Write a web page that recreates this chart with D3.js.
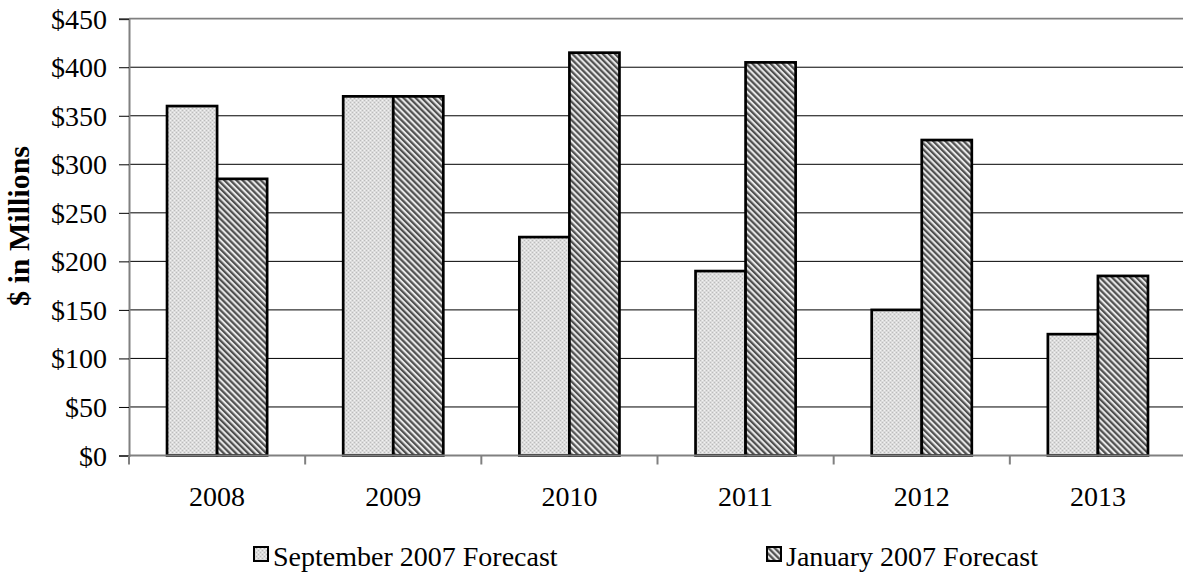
<!DOCTYPE html>
<html><head><meta charset="utf-8">
<script src="https://cdn.jsdelivr.net/npm/d3@7"></script>
<style>body{margin:0;background:#fff}svg{display:block}</style>
</head><body>
<svg id="c" width="1183" height="573"></svg>
<script>
const categories = ["2008","2009","2010","2011","2012","2013"];
const seriesNames = ["September 2007 Forecast","January 2007 Forecast"];
const septValues = [360,370,225,190,150,125];
const janValues = [285,370,415,405,325,185];
const yTicks = [0,50,100,150,200,250,300,350,400,450];

const svg = d3.select("#c");
const L = 129, R = 1186, T = 18.7, B = 455.5;
const font = "'Liberation Serif','Times New Roman',serif";

const defs = svg.append("defs");
const p1 = defs.append("pattern").attr("id","dots").attr("patternUnits","userSpaceOnUse").attr("width",4).attr("height",4);
p1.append("rect").attr("width",4).attr("height",4).attr("fill","#dcdcdc");
p1.append("rect").attr("x",0).attr("y",0).attr("width",1).attr("height",1).attr("fill","#bcbcbc");
p1.append("rect").attr("x",2).attr("y",2).attr("width",1).attr("height",1).attr("fill","#bcbcbc");
p1.append("rect").attr("x",2).attr("y",0).attr("width",1).attr("height",1).attr("fill","#f2f2f2");
p1.append("rect").attr("x",0).attr("y",2).attr("width",1).attr("height",1).attr("fill","#f2f2f2");
const p2 = defs.append("pattern").attr("id","hatch").attr("patternUnits","userSpaceOnUse").attr("width",4.3).attr("height",10).attr("patternTransform","rotate(-45)");
p2.append("rect").attr("width",4.3).attr("height",10).attr("fill","#e8e8e8");
p2.append("rect").attr("width",2.2).attr("height",10).attr("fill","#505050");

const x0 = d3.scaleBand().domain(categories).range([L,R]).padding(0);
const x1 = d3.scaleBand().domain(seriesNames).range([0,x0.bandwidth()]).paddingInner(0).paddingOuter(0.76);
const y = d3.scaleLinear().domain([0,450]).range([B,T]);

// gridlines
svg.append("g").selectAll("line").data(yTicks.filter(d=>d>0)).join("line")
  .attr("x1",L).attr("x2",R).attr("y1",d=>y(d)).attr("y2",d=>y(d))
  .attr("stroke",d=>d===450?"#808080":"#000").attr("stroke-width",d=>d===450?1.7:1);

// y axis
const yAxis = svg.append("g").attr("transform",`translate(${L},0)`)
  .call(d3.axisLeft(y).tickValues(yTicks).tickSize(10).tickPadding(12).tickFormat(d=>"$"+d));
yAxis.select(".domain").attr("stroke","#808080").attr("stroke-width",2);
yAxis.selectAll(".tick line").attr("stroke","#000").attr("stroke-width",1);
yAxis.selectAll("text").attr("font-family",font).attr("font-size",28).attr("fill","#000").attr("dy","0.34em");

// bars
const seriesData = [septValues, janValues];
const fills = ["url(#dots)","url(#hatch)"];
seriesData.forEach((vals,si)=>{
  svg.append("g").selectAll("rect").data(vals).join("rect")
    .attr("x",(d,i)=>x0(categories[i])+x1(seriesNames[si]))
    .attr("width",x1.bandwidth())
    .attr("y",d=>y(d)).attr("height",d=>y(0)-y(d))
    .attr("fill",fills[si]).attr("stroke","#000").attr("stroke-width",2.7);
});

// x axis
const xg = svg.append("g");
xg.append("line").attr("x1",L).attr("x2",R).attr("y1",B).attr("y2",B).attr("stroke","#808080").attr("stroke-width",2);
const bounds = categories.map(c=>x0(c)).concat([R]);
xg.selectAll("line.t").data(bounds).join("line").attr("class","t")
  .attr("x1",d=>d).attr("x2",d=>d).attr("y1",B).attr("y2",B+9).attr("stroke","#808080").attr("stroke-width",2);
xg.selectAll("text").data(categories).join("text")
  .attr("x",d=>x0(d)+x0.bandwidth()/2).attr("y",506).attr("text-anchor","middle")
  .attr("font-family",font).attr("font-size",28).text(d=>d);

// y title
svg.append("text").attr("transform","translate(29,226) rotate(-90)").attr("text-anchor","middle")
  .attr("font-family",font).attr("font-size",30).attr("font-weight","bold").text("$ in Millions");

// legend
const legX = [254, 767];
seriesNames.forEach((s,i)=>{
  svg.append("rect").attr("x",legX[i]).attr("y",547).attr("width",14).attr("height",14)
    .attr("fill",fills[i]).attr("stroke","#000").attr("stroke-width",2);
  svg.append("text").attr("x",legX[i]+19).attr("y",566).attr("font-family",font).attr("font-size",28).text(s);
});
</script>
</body></html>
